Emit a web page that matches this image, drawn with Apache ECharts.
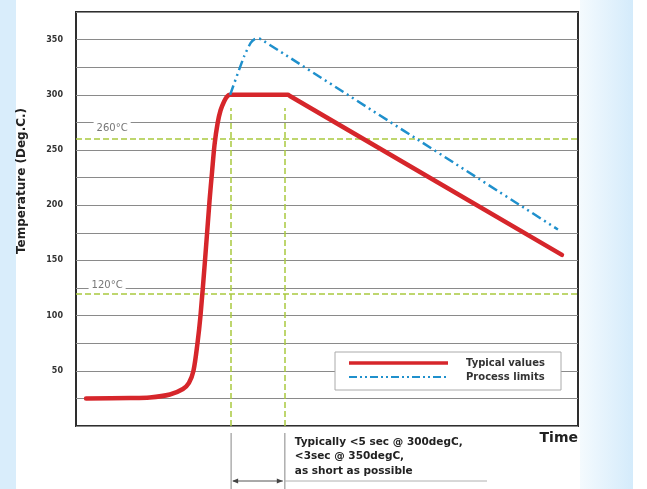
<!DOCTYPE html>
<html><head><meta charset="utf-8">
<script src="https://cdn.jsdelivr.net/npm/echarts@6/dist/echarts.min.js"></script>
<style>html,body{margin:0;padding:0;background:#fff}#c{width:647px;height:489px}</style>
</head><body><div id="c"></div>
<script>
// Time axis is arbitrary (0-100), temperature in deg C
const typicalValues = [[2.0,25],[10.8,25.3],[14.7,25.8],[18.7,28.5],[21.3,33.5],[22.5,39],[23.4,50],[24.2,75],[24.8,100],[25.7,150],[26.6,204],[27.1,230],[27.6,255],[28.2,274],[28.8,286],[29.5,294],[30.1,298.5],[30.7,300],[31.2,300],[41.7,300],[42.2,300],[42.7,298.7],[96.8,155]];
const processLimits = [[30.7,300],[33.5,335],[34.8,347],[35.6,350.5],[36.4,351],[37.3,349],[96.0,178]];
const limitTemps = [260,120];
const limitLabels = ['260°C','120°C'];
const dwellTimes = [30.9,41.6];
const dwellTop = 288;
const yTicks = [50,100,150,200,250,300,350];
const seriesNames = ['Typical values','Process limits'];
const noteLines = ['Typically <5 sec @ 300degC,','<3sec @ 350degC,','as short as possible'];

const chart = echarts.init(document.getElementById('c'));
const green = '#a9c93f';
const red = '#d6262b', blue = '#1f90cc';
const blueDash = [10,4,2,4,2,4];
const option = {
  animation:false,
  backgroundColor:'#fff',
  grid:{left:76,top:12,right:69,bottom:63,show:true,borderColor:'#2e2e2e',borderWidth:2,backgroundColor:'#fff'},
  xAxis:{type:'value',min:0,max:100,axisLabel:{show:false},axisTick:{show:false},splitLine:{show:false},axisLine:{show:false}},
  yAxis:{type:'value',min:0,max:375,interval:25,
    axisLine:{show:false},axisTick:{show:false},
    axisLabel:{formatter:v=>yTicks.includes(v)?String(v):'',fontFamily:'DejaVu Sans',fontWeight:'bold',fontSize:8,color:'#333',margin:13},
    splitLine:{lineStyle:{color:'#8a8a8a',width:1}}},
  series:[
    {name:seriesNames[0],type:'line',data:typicalValues,showSymbol:false,symbol:'none',smooth:0.3,
     lineStyle:{color:red,width:4.5,cap:'round',join:'round'},itemStyle:{color:red},z:5,
     markLine:{silent:true,symbol:'none',label:{show:false},
       lineStyle:{color:green,type:[6,3],width:1.5},
       data:[
         ...limitTemps.map(t=>({yAxis:t})),
         ...dwellTimes.map(x=>[{coord:[x,0]},{coord:[x,dwellTop]}])
       ]}},
    {name:seriesNames[1],type:'line',data:processLimits,showSymbol:false,symbol:'none',smooth:0.2,
     lineStyle:{color:blue,width:2.5,type:blueDash,join:'round'},itemStyle:{color:blue},z:6}
  ]
};
chart.setOption(option);

const px = (x,y)=>chart.convertToPixel({gridIndex:0},[x,y]);
const g = [];
// background strips
g.push({type:'rect',shape:{x:0,y:0,width:16,height:489},style:{fill:'#d9edfb'},z:-10,silent:true});
g.push({type:'rect',shape:{x:580,y:0,width:53,height:489},
  style:{fill:new echarts.graphic.LinearGradient(0,0,1,0,[{offset:0,color:'#f4fafe'},{offset:1,color:'#d4ebfb'}])},z:-10,silent:true});
// limit labels
const lblPos = [[7.2,270],[6.2,127]];
limitLabels.forEach((t,i)=>{
  const p = px(lblPos[i][0],lblPos[i][1]);
  g.push({type:'text',x:p[0],y:p[1],z:20,style:{text:t,fill:'#777',font:'10px "DejaVu Sans"',align:'center',verticalAlign:'middle',backgroundColor:'#fff',padding:[1,3]}});
});
// legend
g.push({type:'rect',shape:{x:335,y:352,width:226,height:38},style:{fill:'#fff',stroke:'#aaa',lineWidth:1},z:30});
g.push({type:'line',shape:{x1:349,y1:363,x2:448,y2:363},style:{stroke:red,lineWidth:3.5},z:31});
g.push({type:'line',shape:{x1:349,y1:377,x2:448,y2:377},style:{stroke:blue,lineWidth:2,lineDash:[8,3,2,3,2,3]},z:31});
seriesNames.forEach((t,i)=>g.push({type:'text',x:466,y:363+i*14,z:31,style:{text:t,fill:'#333',font:'bold 10px "DejaVu Sans"',align:'left',verticalAlign:'middle'}}));
// axis name
g.push({type:'text',x:22,y:181,rotation:Math.PI/2,z:20,style:{text:'Temperature (Deg.C.)',fill:'#222',font:'bold 12px "DejaVu Sans"',align:'center',verticalAlign:'middle'}});
// Time
const pr = px(100,0);
g.push({type:'text',x:pr[0],y:pr[1]+12,z:20,style:{text:'Time',fill:'#222',font:'bold 14px "DejaVu Sans"',align:'right',verticalAlign:'middle'}});
// dwell markers below plot
const d0 = px(dwellTimes[0],0), d1 = px(dwellTimes[1],0);
const bot = 489, ay = 481;
[d0,d1].forEach(p=>g.push({type:'line',shape:{x1:p[0],y1:p[1]+7,x2:p[0],y2:bot},style:{stroke:'#9a9a9a',lineWidth:1.2},z:20}));
g.push({type:'line',shape:{x1:d0[0]+2,y1:ay,x2:d1[0]-2,y2:ay},style:{stroke:'#555',lineWidth:1},z:20});
g.push({type:'polygon',shape:{points:[[d0[0]+1,ay],[d0[0]+7,ay-2.5],[d0[0]+7,ay+2.5]]},style:{fill:'#444'},z:20});
g.push({type:'polygon',shape:{points:[[d1[0]-2,ay],[d1[0]-8,ay-2.5],[d1[0]-8,ay+2.5]]},style:{fill:'#444'},z:20});
g.push({type:'line',shape:{x1:d1[0],y1:ay,x2:487,y2:ay},style:{stroke:'#b0b0b0',lineWidth:1},z:20});
noteLines.forEach((t,i)=>{
  g.push({type:'text',x:d1[0]+10,y:442+i*14.5,z:20,style:{text:t,fill:'#222',font:'bold 10.5px "DejaVu Sans"',align:'left',verticalAlign:'middle'}});
});
chart.setOption({graphic:g});
</script></body></html>
